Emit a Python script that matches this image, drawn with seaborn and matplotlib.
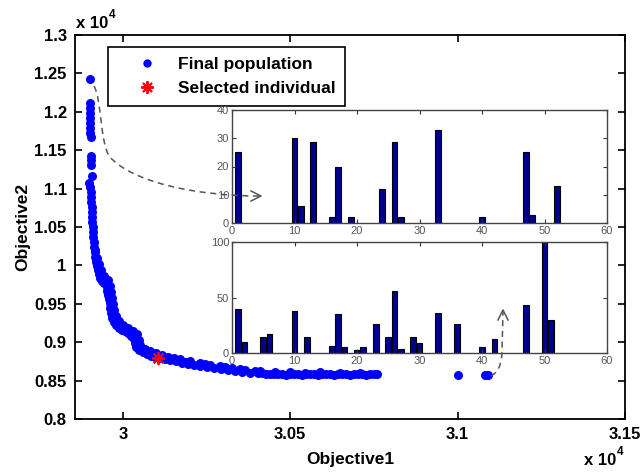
import matplotlib
matplotlib.use('Agg')
import matplotlib.pyplot as plt
import matplotlib.transforms as mtrans
from matplotlib.path import Path
from matplotlib.patches import PathPatch
from matplotlib.lines import Line2D
import pandas as pd
import seaborn as sns

# ---------------- data ----------------
obj1 = [29903, 29903, 29903, 29903, 29903, 29903, 29901, 29903, 29904, 29906,
        29906, 29906, 29908, 29900, 29903, 29904, 29906, 29906, 29907, 29907,
        29909, 29909, 29910, 29910, 29912, 29913, 29915, 29916, 29918, 29919,
        29922, 29925, 29928, 29931, 29937, 29943, 29949, 29952, 29954, 29955,
        29958, 29961, 29963, 29964, 29967, 29973, 29979, 29988, 29997, 30006,
        30015, 30024, 30033, 30036, 30039, 30048, 30060, 30072, 30084, 30096,
        30111, 30125, 30140, 30158, 30176, 30194, 30212, 30230, 30251, 30272,
        30293, 30314, 30335, 30356, 30379, 30403, 30427, 30451, 30475, 30499,
        30523, 30547, 30571, 30595, 30618, 30642, 30666, 30690, 30714, 30738,
        30759, 31001, 31082, 31091,
        29916, 29922, 29928, 29934, 29943, 29955, 29961, 29964, 29967, 29970,
        29973, 29979, 29988, 30000, 30015, 30030, 30042, 30048, 30051, 30066,
        30081, 30099, 30117, 30134, 30152, 30170, 30200, 30230, 30260, 30290,
        30326, 30365, 30409, 30454, 30499, 30544, 30589, 30648, 30708,
        30415, 30439, 30463, 30487, 30511, 30535, 30559, 30583, 30607, 30630,
        30654, 30678, 30702, 30726, 30750,
        30185, 30245, 30305, 30350, 30394]
obj2 = [12427, 12115, 12049, 11984, 11919, 11854, 11789, 11724, 11672, 11424,
        11372, 11307, 11164, 11073, 11021, 10956, 10891, 10826, 10760, 10695,
        10630, 10565, 10500, 10435, 10370, 10305, 10240, 10174, 10109, 10044,
        9992, 9940, 9888, 9836, 9797, 9771, 9758, 9719, 9667, 9615,
        9563, 9510, 9445, 9380, 9315, 9263, 9224, 9185, 9159, 9146,
        9120, 9081, 9042, 8990, 8938, 8898, 8872, 8846, 8820, 8807,
        8788, 8775, 8762, 8749, 8729, 8716, 8703, 8690, 8677, 8664,
        8651, 8638, 8625, 8612, 8605, 8599, 8592, 8586, 8586, 8586,
        8586, 8580, 8586, 8580, 8586, 8580, 8586, 8580, 8586, 8580,
        8580, 8573, 8573, 8573,
        10201, 10096, 10018, 9940, 9862, 9810, 9732, 9654, 9576, 9498,
        9420, 9341, 9276, 9224, 9185, 9146, 9107, 9029, 8964, 8912,
        8886, 8860, 8834, 8807, 8794, 8781, 8755, 8729, 8703, 8690,
        8664, 8638, 8625, 8612, 8606, 8599, 8606, 8599, 8599,
        8599, 8580, 8592, 8573, 8586, 8573, 8592, 8573, 8586, 8573,
        8592, 8573, 8586, 8573, 8586,
        8742, 8710, 8671, 8645, 8619]
sel_obj1 = [30105]
sel_obj2 = [8798]

top_pos = [1, 10, 11, 13, 16, 17, 19, 24, 26, 27, 33, 40, 47, 48, 52]
top_cnt = [25, 30, 6, 28.5, 2, 20, 2, 12, 28.5, 2, 33, 2, 25, 3, 13]

bot_pos = [1, 2, 5, 6, 10, 12, 16, 17, 18, 20, 21, 23, 25, 26, 27, 29, 30,
           33, 36, 40, 42, 47, 50, 51]
bot_cnt = [40, 10, 14, 17, 38, 14, 6, 35, 5, 3, 5, 26, 14, 56, 4, 14, 9,
           36, 26, 5, 13, 43, 100, 30]

main_xticks = [3.0, 3.05, 3.1, 3.15]
main_xlabels = ['3', '3.05', '3.1', '3.15']
main_yticks = [0.8, 0.85, 0.9, 0.95, 1.0, 1.05, 1.1, 1.15, 1.2, 1.25, 1.3]
main_ylabels = ['0.8', '0.85', '0.9', '0.95', '1', '1.05', '1.1', '1.15',
                '1.2', '1.25', '1.3']
scale = 1e4

# ---------------- style ----------------
plt.rcParams['font.family'] = ['Liberation Sans', 'DejaVu Sans']

W, H = 643, 474
fig = plt.figure(figsize=(W / 100, H / 100), dpi=100)
fig.patch.set_facecolor('white')


def frac(l, t, r, b):
    return [l / W, 1 - b / H, (r - l) / W, (b - t) / H]


ax = fig.add_axes(frac(75, 35, 625, 419))

front = pd.DataFrame({'o1': [v / scale for v in obj1],
                      'o2': [v / scale for v in obj2]})
sel = pd.DataFrame({'o1': [v / scale for v in sel_obj1],
                    'o2': [v / scale for v in sel_obj2]})

sns.scatterplot(data=front, x='o1', y='o2', ax=ax, color='#0000ff', s=42,
                linewidth=0, legend=False, zorder=3)
sns.scatterplot(data=sel, x='o1', y='o2', ax=ax, color='red', marker=(8, 2, 0),
                s=70, linewidth=1.4, edgecolor='red', legend=False, zorder=4)

ax.set_xlim(2.9857, 3.15)
ax.set_ylim(0.8, 1.3)
ax.set_xticks(main_xticks)
ax.set_xticklabels(main_xlabels, fontweight='bold', fontsize=12)
ax.set_yticks(main_yticks)
ax.set_yticklabels(main_ylabels, fontweight='bold', fontsize=12)
ax.tick_params(direction='in', top=True, right=True, length=5, width=1.2,
               pad=6, colors='black')
for sp in ax.spines.values():
    sp.set_linewidth(1.3)
    sp.set_color('black')
ax.set_xlabel('Objective1', fontweight='bold', fontsize=12.5, labelpad=7)
ax.set_ylabel('Objective2', fontweight='bold', fontsize=12.5, labelpad=3)

# multiplier texts
fig.text(76 / W, 1 - 28 / H, 'x 10', fontsize=12, fontweight='bold',
         ha='left', va='baseline')
fig.text(109 / W, 1 - 18 / H, '4', fontsize=8.5, fontweight='bold',
         ha='left', va='baseline')
fig.text(584 / W, 1 - 465 / H, 'x 10', fontsize=12, fontweight='bold',
         ha='left', va='baseline')
fig.text(617 / W, 1 - 455 / H, '4', fontsize=8.5, fontweight='bold',
         ha='left', va='baseline')

# legend
h1 = Line2D([], [], linestyle='none', marker='o', markersize=6,
            markerfacecolor='#0000ff', markeredgecolor='none')
h2 = Line2D([], [], linestyle='none', marker=(8, 2, 0), markersize=9,
            markeredgewidth=1.4, color='red')
leg = ax.legend([h1, h2], ['Final population', 'Selected individual'],
                loc='upper left', bbox_to_anchor=(108 / W, 1 - 47 / H),
                bbox_transform=fig.transFigure, borderaxespad=0,
                fancybox=False, edgecolor='black', framealpha=1,
                prop={'weight': 'bold', 'size': 12.5}, handlelength=3.3,
                handletextpad=0.15, labelspacing=0.5, borderpad=0.57)
leg.get_frame().set_linewidth(1.2)

# ---------------- insets ----------------
gray = '#555555'


def style_inset(a, ymax, yt):
    a.set_xlim(0, 60)
    a.set_ylim(0, ymax)
    a.set_xticks(range(0, 61, 10))
    a.set_yticks(yt)
    a.set_xlabel('')
    a.set_ylabel('')
    a.tick_params(direction='in', top=True, right=True, length=3, width=0.8,
                  labelsize=8, labelcolor=gray, color='#333333', pad=2)
    for sp in a.spines.values():
        sp.set_color('#444444')
        sp.set_linewidth(1.0)


ax1 = fig.add_axes(frac(232, 110, 607, 223))
sns.barplot(x=top_pos, y=top_cnt, ax=ax1, native_scale=True, width=0.9,
            color='#00008f', saturation=1, edgecolor='black', linewidth=0.8,
            errorbar=None)
style_inset(ax1, 40, [0, 10, 20, 30, 40])

ax2 = fig.add_axes(frac(232, 242, 607, 353))
sns.barplot(x=bot_pos, y=bot_cnt, ax=ax2, native_scale=True, width=0.9,
            color='#00008f', saturation=1, edgecolor='black', linewidth=0.8,
            errorbar=None)
style_inset(ax2, 100, [0, 50, 100])

# ---------------- dashed arrows (pixel coordinates of the figure) -------
pix = mtrans.Affine2D().scale(1 / W, -1 / H).translate(0, 1) + fig.transFigure

p1 = Path([(94, 86), (102, 100), (100, 145), (110, 157),
           (130, 180), (190, 196), (260, 196)],
          [Path.MOVETO, Path.CURVE4, Path.CURVE4, Path.CURVE4,
           Path.CURVE4, Path.CURVE4, Path.CURVE4])
fig.add_artist(PathPatch(p1, transform=pix, fill=False, edgecolor=gray,
                         linestyle=(0, (4, 3)), linewidth=1.1, zorder=10))
fig.add_artist(Line2D([251, 261, 251], [191, 196, 201], transform=pix,
                      color=gray, linewidth=1.1, zorder=10))

p2 = Path([(491, 376), (498, 372), (502, 365), (502, 350), (503, 312)],
          [Path.MOVETO, Path.CURVE4, Path.CURVE4, Path.CURVE4, Path.LINETO])
fig.add_artist(PathPatch(p2, transform=pix, fill=False, edgecolor=gray,
                         linestyle=(0, (4, 3)), linewidth=1.1, zorder=10))
fig.add_artist(Line2D([498, 503, 508], [320, 310, 320], transform=pix,
                      color=gray, linewidth=1.1, zorder=10))

fig.savefig('out.png', dpi=100)
